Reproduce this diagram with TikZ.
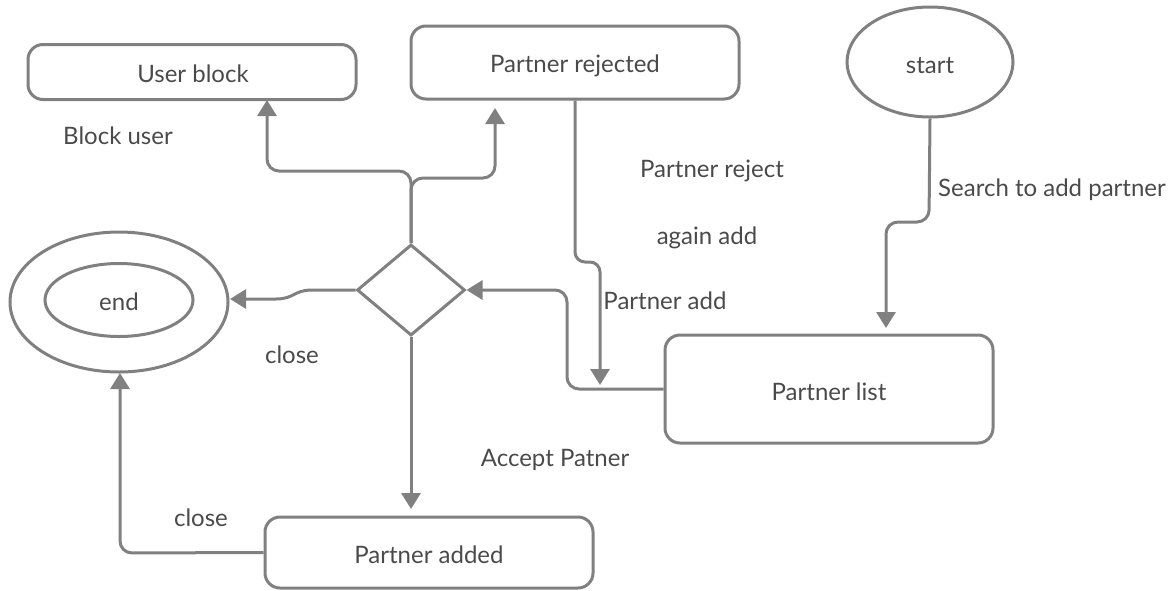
\documentclass[tikz,border=0pt]{standalone}
\usepackage{fontspec}
\setmainfont{Lato}
\usetikzlibrary{shapes.geometric,arrows.meta}
\definecolor{wire}{HTML}{808080}
\definecolor{ink}{HTML}{4A4A4A}
\begin{document}
\begin{tikzpicture}[x=1pt,y=-1pt,
  font=\fontsize{24}{28}\selectfont,
  every node/.style={text=ink},
  box/.style={draw=wire,line width=3pt,rounded corners=15pt,inner sep=0pt},
  oval/.style={draw=wire,line width=3pt,ellipse,inner sep=0pt},
  choice/.style={draw=wire,line width=3pt,diamond,inner sep=0pt,minimum width=108pt,minimum height=91pt},
  link/.style={draw=wire,line width=3pt,rounded corners=12pt},
  tip/.style={-{Triangle[length=16pt,width=19pt]}},
  flow/.style={link,tip},
  lbl/.style={inner sep=0pt}]
\useasboundingbox (0,0) rectangle (1174,590);

% states
\node[box,minimum width=328pt,minimum height=55pt] (user) at (192,72) {};
\node at (193,74) {User block};
\node[box,minimum width=328pt,minimum height=73pt] (rej) at (575,62.5) {};
\node at (575,66) {Partner rejected};
\node[oval,minimum width=166pt,minimum height=110pt] (start) at (930,62) {};
\node at (930,66) {start};
\node[oval,minimum width=218pt,minimum height=140pt] (endo) at (119,302) {};
\node[oval,minimum width=148pt,minimum height=73pt] (endi) at (119,300) {};
\node at (119,302) {end};
\node[choice] (dia) at (411,290) {};
\node[box,minimum width=328pt,minimum height=108pt] (plist) at (829,389) {};
\node at (829,392) {Partner list};
\node[box,minimum width=328pt,minimum height=71pt] (padd) at (429,552.5) {};
\node at (429,555) {Partner added};

% free arrow ends
\coordinate (tUser) at (267,100);
\coordinate (tRej) at (495,108);
\coordinate (tEnd) at (230,299);
\coordinate (tList) at (886,328);
\coordinate (tBack) at (600,385);
\coordinate (tAdd) at (411,509);

% connectors
\draw[flow] (dia.north) -- (411,171) -- (267,171) -- (tUser);
\draw[flow] (dia.north) -- (411,178) -- (495,178) -- (tRej);
\draw[draw=wire,line width=3pt,tip] (dia.west) -- (312,290)
  .. controls (294,290) and (294,299) .. (276,299) -- (tEnd);
\draw[flow] (start.south) -- (929,222) -- (886,222) -- (tList);
\draw[flow,rounded corners=10pt] (rej.south) -- (575,262) -- (600,262) -- (tBack);
\draw[flow] (plist.west) -- (567,389) -- (567,290) -- (dia.east);
\draw[flow] (dia.south) -- (tAdd);
\draw[flow] (padd.west) -- (120,553) -- (120,373);

% labels
\node[lbl] at (118,136) {Block user};
\node[lbl] at (712,171) {Partner reject};
\node[lbl] at (707,238) {again add};
\node[lbl] at (665,301) {Partner add};
\node[lbl] at (1052,190) {Search to add partner};
\node[lbl] at (292,355) {close};
\node[lbl] at (555,460) {Accept Patner};
\node[lbl] at (201,518) {close};
\end{tikzpicture}
\end{document}
